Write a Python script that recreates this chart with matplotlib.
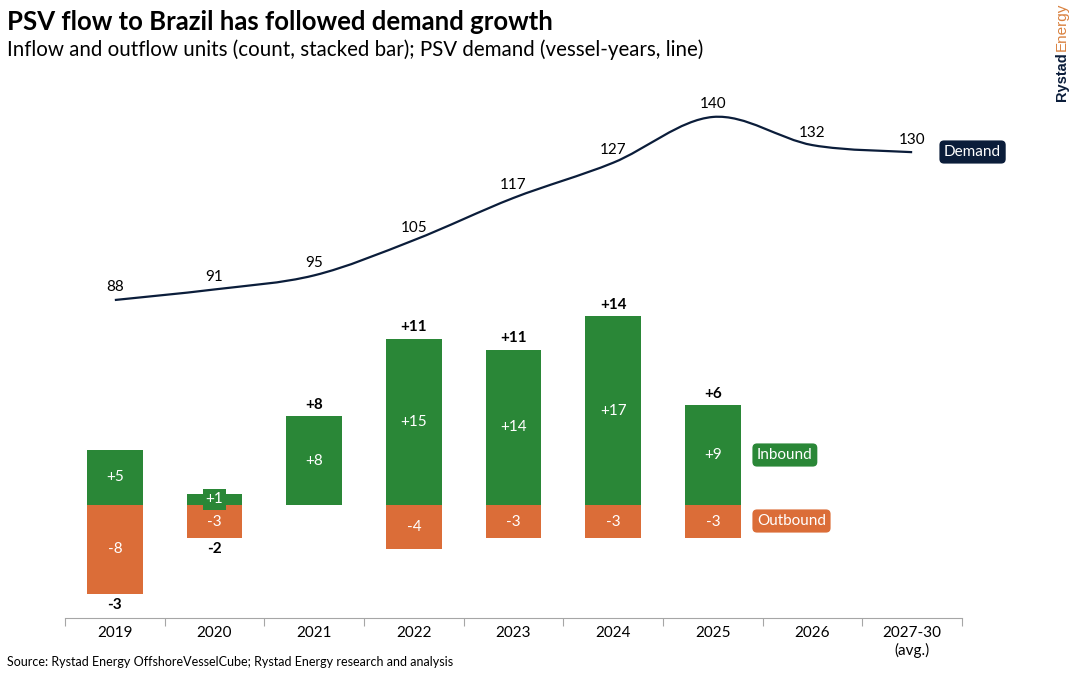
import numpy as np
import matplotlib
matplotlib.use("Agg")
import matplotlib.pyplot as plt
from matplotlib.path import Path
from matplotlib.patches import PathPatch

# data
years = ["2019", "2020", "2021", "2022", "2023", "2024", "2025", "2026", "2027-30\n(avg.)"]
inbound = [5, 1, 8, 15, 14, 17, 9]
outbound = [-8, -3, 0, -4, -3, -3, -3]
net = [-3, -2, 8, 11, 11, 14, 6]
demand = [88, 91, 95, 105, 117, 127, 140, 132, 130]

GREEN = "#2A8737"
ORANGE = "#DB6D38"
NAVY = "#0B1D3A"

plt.rcParams["font.family"] = ["Lato", "DejaVu Sans"]

W, H = 1076, 674
fig = plt.figure(figsize=(W / 100, H / 100), dpi=100)


def fx(px):
    return px / W


def fy(py):
    return 1 - py / H


# bars
ax = fig.add_axes([fx(65), 56 / H, 897 / W, 538 / H])
ax.set_xlim(-0.5, 8.5)
ax.set_ylim(-10.18, 38.29)
x = np.arange(len(years))
nb = len(inbound)
ax.bar(x[:nb], inbound, width=0.56, color=GREEN, zorder=2)
ax.bar(x[:nb], outbound, width=0.56, color=ORANGE, zorder=2)

for i in range(nb):
    if inbound[i]:
        ax.text(x[i], inbound[i] / 2, f"+{inbound[i]}", ha="center", va="center",
                color="white", fontsize=11, zorder=3,
                bbox=dict(boxstyle="square,pad=0.2", fc=GREEN, ec="none"))
    if outbound[i]:
        ax.text(x[i], outbound[i] / 2, f"{outbound[i]}", ha="center", va="center",
                color="white", fontsize=11, zorder=3)
    lab = f"+{net[i]}" if net[i] > 0 else f"{net[i]}"
    if net[i] > 0:
        ax.annotate(lab, (x[i], inbound[i]), xytext=(0, 3), textcoords="offset points",
                    ha="center", va="bottom", fontsize=11, fontweight="bold")
    else:
        ax.annotate(lab, (x[i], outbound[i]), xytext=(0, -3), textcoords="offset points",
                    ha="center", va="top", fontsize=11, fontweight="bold")

for s in ["left", "right", "top"]:
    ax.spines[s].set_visible(False)
ax.spines["bottom"].set_color("#A6A6A6")
ax.set_yticks([])
ax.set_xticks(np.arange(-0.5, 9, 1))
ax.set_xticklabels([])
ax.tick_params(axis="x", which="major", length=6, color="#A6A6A6", direction="out")
ax.set_xticks(x, minor=True)
ax.set_xticklabels(years, minor=True, fontsize=11)
ax.tick_params(axis="x", which="minor", length=0, pad=6)

# demand line, smoothed like the source chart
ax2 = ax.twinx()
ax2.set_ylim(-2.34, 150.5)
ax2.axis("off")
pts = np.column_stack([x, demand]).astype(float)
verts = [pts[0]]
codes = [Path.MOVETO]
for i in range(len(pts) - 1):
    p0 = pts[max(i - 1, 0)]
    p1 = pts[i]
    p2 = pts[i + 1]
    p3 = pts[min(i + 2, len(pts) - 1)]
    verts += [p1 + (p2 - p0) / 6, p2 - (p3 - p1) / 6, p2]
    codes += [Path.CURVE4] * 3
ax2.add_patch(PathPatch(Path(verts, codes), fc="none", ec=NAVY, lw=1.6))
for xi, v in zip(x, demand):
    ax2.annotate(str(v), (xi, v), xytext=(0, 4), textcoords="offset points",
                 ha="center", va="bottom", fontsize=11)

# labels as legend
fig.text(fx(757), fy(455), "Inbound", ha="left", va="center", color="white", fontsize=11,
         bbox=dict(boxstyle="round,pad=0.3,rounding_size=0.3", fc=GREEN, ec="none"))
fig.text(fx(757), fy(521), "Outbound", ha="left", va="center", color="white", fontsize=11,
         bbox=dict(boxstyle="round,pad=0.3,rounding_size=0.3", fc=ORANGE, ec="none"))
fig.text(fx(944), fy(152), "Demand", ha="left", va="center", color="white", fontsize=11,
         bbox=dict(boxstyle="round,pad=0.3,rounding_size=0.3", fc=NAVY, ec="none"))

# titles
fig.text(fx(7), fy(22), "PSV flow to Brazil has followed demand growth",
         ha="left", va="center", fontsize=18.5, fontweight="bold")
fig.text(fx(7), fy(50), "Inflow and outflow units (count, stacked bar); PSV demand (vessel-years, line)",
         ha="left", va="center", fontsize=14.8)
fig.text(fx(7), fy(662), "Source: Rystad Energy OffshoreVesselCube; Rystad Energy research and analysis",
         ha="left", va="center", fontsize=9)

# logo
fig.text(fx(1062), fy(101), "Rystad", rotation=90, ha="center", va="bottom",
         fontsize=10.5, fontweight="bold", color=NAVY, family="Liberation Sans")
fig.text(fx(1062), fy(3), "Energy", rotation=90, ha="center", va="top",
         fontsize=11, color="#D9813F", family="Liberation Sans")

fig.savefig("out.png", dpi=100)
